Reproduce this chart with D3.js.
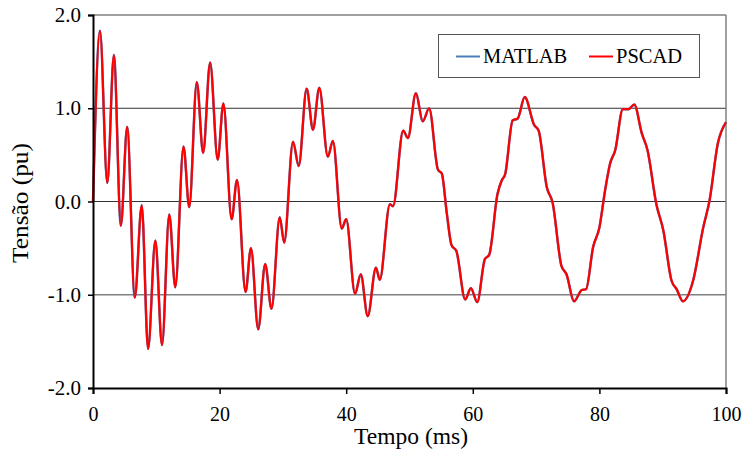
<!DOCTYPE html>
<html><head><meta charset="utf-8">
<script src="https://cdn.jsdelivr.net/npm/d3@7/dist/d3.min.js"></script>
<style>body{margin:0;background:#fff}svg{display:block}text{font-family:"Liberation Serif","Times New Roman",serif}</style>
</head><body><svg id="c" width="745" height="459"></svg>
<script>
const timesMs = [
 0,1.1,2.26,3.3,4.4,5.4,6.6,7.7,8.7,9.85,
 10.9,12.05,13.0,14.3,15.2,16.4,17.4,18.5,19.7,20.6,
 21.9,22.75,24.1,24.95,26.1,27.2,28.2,29.5,30.2,31.6,
 32.5,33.75,34.75,35.75,37.1,37.9,39.3,40.0,41.4,42.3,
 43.4,44.7,45.3,46.9,47.4,49.0,49.75,51.0,52.1,53.1,
 54.5,55.1,55.9,56.65,57.4,58.8,59.7,60.7,61.9,62.6,
 63.9,64.6,65.1,66.3,67.1,68.2,69.7,70.4,71.7,72.6,
 74.0,74.8,76.0,77.2,77.9,79.0,80.0,80.9,81.7,82.5,
 83.7,84.6,85.5,86.7,87.6,89.0,90.1,91.4,92.2,93.2,
 94.8,96.4,97.4,98.7,100
];
const matlab = [
 0,1.83,0.20,1.57,-0.26,0.80,-1.03,-0.04,-1.58,-0.42,
 -1.54,-0.14,-0.92,0.59,-0.06,1.28,0.52,1.49,0.45,1.05,
 -0.19,0.23,-0.97,-0.50,-1.37,-0.67,-1.15,-0.17,-0.44,0.64,
 0.38,1.21,0.77,1.22,0.48,0.65,-0.29,-0.19,-0.99,-0.78,
 -1.23,-0.71,-0.84,-0.03,-0.05,0.76,0.68,1.16,0.86,1.00,
 0.34,0.30,-0.13,-0.47,-0.53,-1.05,-0.93,-1.08,-0.62,-0.57,
 0.08,0.23,0.29,0.87,0.89,1.12,0.82,0.76,0.15,-0.01,
 -0.69,-0.78,-1.07,-0.95,-0.94,-0.49,-0.28,0.12,0.41,0.55,
 0.99,0.99,1.04,0.73,0.55,-0.03,-0.31,-0.85,-0.94,-1.07,
 -0.85,-0.28,0.01,0.62,0.85
];
const pscad = matlab.slice();
const xTicks = [0,20,40,60,80,100];
const yTicks = [-2,-1,0,1,2];
const yTickLabels = ["-2.0","-1.0","0.0","1.0","2.0"];
const yGrid = [-1,0,1];
const seriesNames = ["MATLAB","PSCAD"];

const svg = d3.select("#c");
const L=93,R=726,T=15,B=388;
const x = d3.scaleLinear().domain([0,100]).range([L,R]);
const y = d3.scaleLinear().domain([-2,2]).range([B,T]);

// grid
svg.append("g").selectAll("line").data(yGrid).join("line")
 .attr("x1",L).attr("x2",R).attr("y1",d=>y(d)).attr("y2",d=>y(d))
 .attr("stroke",d=>d===-1?"#808080":"#333").attr("stroke-width",d=>d===-1?1.5:1);
// top/right border
svg.append("line").attr("x1",L).attr("x2",R).attr("y1",T).attr("y2",T).attr("stroke","#808080").attr("stroke-width",1.5);
svg.append("line").attr("x1",R).attr("x2",R).attr("y1",T).attr("y2",B).attr("stroke","#808080").attr("stroke-width",1.5);

const line = d3.line().x((d,i)=>x(timesMs[i])).y(d=>y(d)).curve(d3.curveMonotoneX);
svg.append("path").attr("d",line(matlab)).attr("fill","none").attr("stroke","#4a7ebb").attr("stroke-width",2.5);
svg.append("path").attr("d",line(pscad)).attr("fill","none").attr("stroke","#ff0000").attr("stroke-width",2.2);

// axes
const xa = svg.append("g").attr("transform",`translate(0,${B})`)
 .call(d3.axisBottom(x).tickValues(xTicks).tickSize(6).tickFormat(d3.format("d")));
xa.selectAll("text").attr("y",33).attr("dy",0).attr("font-size",20);
const ya = svg.append("g").attr("transform",`translate(${L},0)`)
 .call(d3.axisLeft(y).tickValues(yTicks).tickSize(5).tickPadding(7)
   .tickFormat((d,i)=>yTickLabels[yTicks.indexOf(d)]));
ya.selectAll("text").attr("font-size",21);
[xa,ya].forEach(g=>{
 g.attr("font-family",null);
 g.select(".domain").attr("stroke","#000").attr("stroke-width",2);
 g.selectAll(".tick line").attr("stroke","#000").attr("stroke-width",1.5);
 g.selectAll("text").attr("font-family","Liberation Serif").attr("fill","#000");
});
svg.append("text").attr("x",411).attr("y",444).attr("text-anchor","middle").attr("font-size",24)
 .attr("textLength",114).attr("lengthAdjust","spacingAndGlyphs").text("Tempo (ms)");
svg.append("text").attr("transform",`translate(28,203) rotate(-90)`).attr("text-anchor","middle").attr("font-size",24)
 .attr("textLength",120).attr("lengthAdjust","spacingAndGlyphs").text("Tensão (pu)");

// legend
const lg = svg.append("g");
lg.append("rect").attr("x",438.5).attr("y",34.5).attr("width",261).attr("height",43).attr("fill","#fff").attr("stroke","#555").attr("stroke-width",1);
const lItems=[{n:seriesNames[0],c:"#4a7ebb",x:456},{n:seriesNames[1],c:"#ff0000",x:589}];
lItems.forEach(it=>{
 lg.append("line").attr("x1",it.x).attr("x2",it.x+24).attr("y1",56.5).attr("y2",56.5).attr("stroke",it.c).attr("stroke-width",2);
 lg.append("text").attr("x",it.x+27).attr("y",62.5).attr("font-size",20.5).text(it.n);
});
</script></body></html>
